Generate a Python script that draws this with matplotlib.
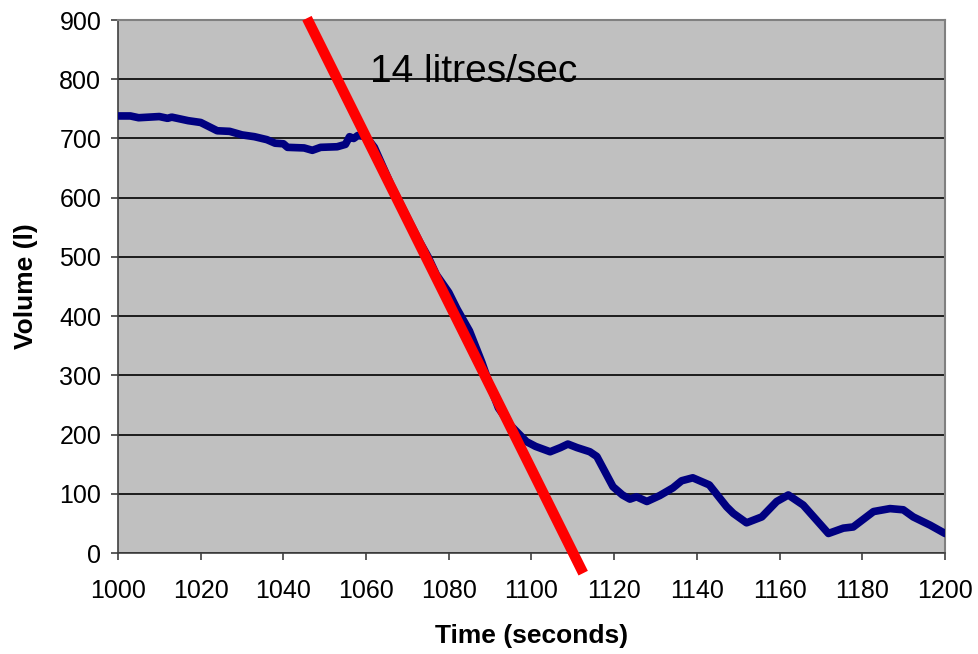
import matplotlib
matplotlib.use("Agg")
import matplotlib.pyplot as plt

plt.rcParams['font.family'] = ['Liberation Sans', 'DejaVu Sans']

# measured volume (blue trace)
time_s = [1000, 1003, 1005, 1010, 1012, 1013, 1015, 1017, 1020, 1022, 1024, 1027,
          1030, 1033, 1036, 1038, 1040, 1041, 1045, 1047, 1049, 1053, 1055, 1056,
          1057, 1058, 1060, 1062, 1066, 1070, 1073, 1075, 1077, 1080, 1082, 1085,
          1088, 1090, 1092, 1095, 1098.8, 1101, 1104.5, 1107, 1108.8, 1111, 1114.1,
          1115.8, 1119.7, 1122, 1123.8, 1125.4, 1127.9, 1131, 1134.2, 1136.3, 1139,
          1143, 1147.2, 1148.8, 1152, 1155.7, 1159.3, 1162.1, 1165.7, 1171.8, 1175.4,
          1177.8, 1182.7, 1186.7, 1189.9, 1192.3, 1196.4, 1200]
volume_l = [738, 738, 735, 737, 734, 736, 733, 730, 727, 720, 713, 712,
            706, 703, 698, 692, 691, 685, 684, 680, 685, 686, 690, 703,
            700, 705, 703, 685, 622, 566, 525, 500, 470, 440, 412, 375,
            322, 282, 245, 215, 188, 180, 171, 178, 184, 178, 171,
            163, 112, 98, 91, 95, 87, 97, 110, 122, 127,
            115, 78, 67, 51, 61, 87, 98, 81, 33, 42,
            44, 70, 75, 73, 61, 47, 33]

# fitted slope line (red)
fit_x = [1045.7, 1112.5]
fit_y = [903, -34]
fit_label = "14 litres/sec"

x_ticks = list(range(1000, 1201, 20))
y_ticks = list(range(0, 901, 100))

fig = plt.figure(figsize=(9.79, 6.54), dpi=100)
ax = fig.add_axes([0.1205, 0.1544, 0.8448, 0.815])
ax.set_facecolor('#C0C0C0')

ax.plot(time_s, volume_l, color='#000080', lw=5.5, solid_capstyle='round',
        solid_joinstyle='round', zorder=3)
ax.plot(fit_x, fit_y, color='#FF0000', lw=7.5, solid_capstyle='butt', clip_on=False, zorder=4)
ax.text(1061, 796, fit_label, fontsize=28, ha='left', va='baseline')

ax.set_xlim(1000, 1200)
ax.set_ylim(0, 900)
ax.set_xticks(x_ticks)
ax.set_yticks(y_ticks)
ax.yaxis.grid(True, color='black', lw=1.2)
ax.set_axisbelow(True)

for s in ['top', 'right']:
    ax.spines[s].set_color('#808080')
    ax.spines[s].set_linewidth(1.5)
for s in ['left', 'bottom']:
    ax.spines[s].set_color('#404040')
    ax.spines[s].set_linewidth(1.2)

ax.tick_params(axis='both', direction='out', length=5, width=1.2, color='#404040',
               labelsize=18, pad=7)
ax.tick_params(axis='x', pad=14)

ax.set_xlabel('Time (seconds)', fontsize=19, fontweight='bold', labelpad=15)
ax.set_ylabel('Volume (l)', fontsize=19, fontweight='bold', labelpad=15)

fig.savefig('out.png', dpi=100)
